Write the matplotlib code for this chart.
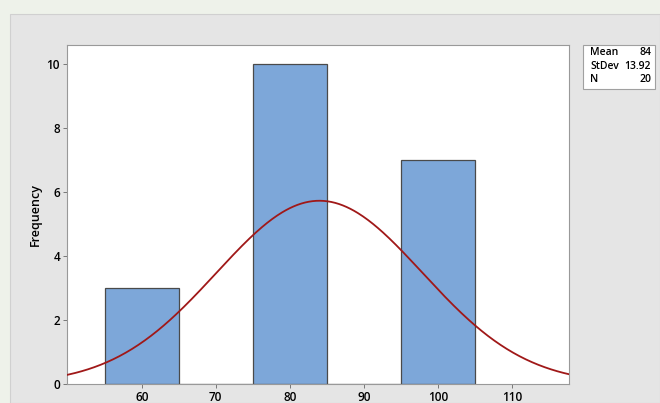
import numpy as np
import matplotlib
matplotlib.use("Agg")
import matplotlib.pyplot as plt
from matplotlib.patches import Rectangle

plt.rcParams['font.family'] = ['Open Sans', 'DejaVu Sans']

bin_edges = [55, 65, 75, 85, 95, 105]
counts = [3, 0, 10, 0, 7]
mean, stdev, n = 84, 13.92, 20
xticks = [60, 70, 80, 90, 100, 110]
yticks = [0, 2, 4, 6, 8, 10]

fig = plt.figure(figsize=(6.6, 4.03), dpi=100)
fig.patch.set_facecolor('#eef2ea')
bg = Rectangle((0.0152, 0), 0.985, 0.965, transform=fig.transFigure,
               facecolor='#e5e5e5', edgecolor='#d0d0d0', lw=0.8, zorder=-5)
fig.add_artist(bg)

ax = fig.add_axes([0.1015, 0.0471, 0.7605, 0.841])
ax.set_zorder(2)
ax.set_facecolor('white')
widths = np.diff(bin_edges)
ax.bar(bin_edges[:-1], counts, width=widths, align='edge', color='#7da7d9',
       edgecolor='#4a4a4a', linewidth=0.9, zorder=2)

bw = bin_edges[1] - bin_edges[0]
xs = np.linspace(50, 118, 400)
ys = n * bw * np.exp(-0.5 * ((xs - mean) / stdev) ** 2) / (stdev * np.sqrt(2 * np.pi))
ax.plot(xs, ys, color='#a01818', lw=1.3, zorder=3)

ax.set_xlim(49.9, 117.7)
ax.set_ylim(0, 10.6)
ax.set_xticks(xticks)
ax.set_yticks(yticks)
ax.tick_params(axis='both', labelsize=8.5, length=3, width=0.6, color='#666666', pad=2)
for lab in ax.get_xticklabels() + ax.get_yticklabels():
    lab.set_fontweight('semibold')
for s in ax.spines.values():
    s.set_color('#999999')
    s.set_linewidth(0.8)
ax.set_ylabel('Frequency', fontsize=9, fontweight='semibold')
ax.yaxis.set_label_coords(-0.050, 0.5)

box = Rectangle((0.8833, 0.779), 0.109, 0.109, transform=fig.transFigure,
                facecolor='white', edgecolor='#a0a0a0', lw=0.8, zorder=5)
fig.add_artist(box)
labels = ['Mean', 'StDev', 'N']
vals = ['84', '13.92', '20']
for i, (l, v) in enumerate(zip(labels, vals)):
    y = 0.8685 - i * 0.0323
    fig.text(0.894, y, l, fontsize=7.5, fontweight='semibold', va='center', ha='left', zorder=6)
    fig.text(0.9864, y, v, fontsize=7.5, fontweight='semibold', va='center', ha='right', zorder=6)

fig.savefig('out.png', dpi=100, facecolor=fig.get_facecolor())
